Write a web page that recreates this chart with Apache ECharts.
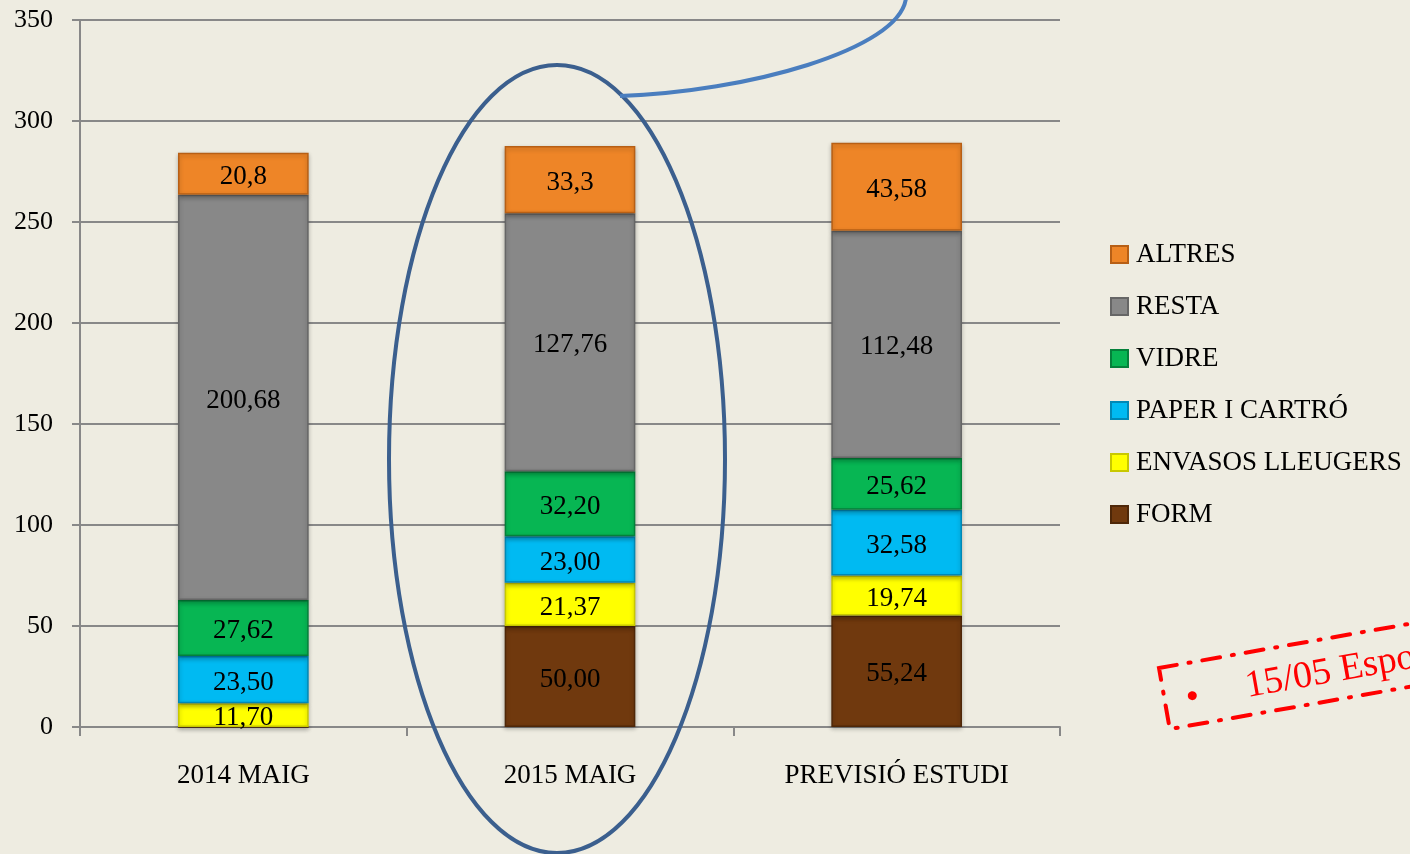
<!DOCTYPE html>
<html>
<head>
<meta charset="utf-8">
<script src="https://cdn.jsdelivr.net/npm/echarts@6/dist/echarts.min.js"></script>
<style>
    html, body { margin: 0; padding: 0; background: #EEECE1; }
    #chart { width: 1410px; height: 854px; }
</style>
</head>
<body>
<div id="chart"></div>
<script>
// dades
const categories = ['2014 MAIG', '2015 MAIG', 'PREVISIÓ ESTUDI'];
const form     = [0, 50.00, 55.24];
const envasos  = [11.70, 21.37, 19.74];
const paper    = [23.50, 23.00, 32.58];
const vidre    = [27.62, 32.20, 25.62];
const resta    = [200.68, 127.76, 112.48];
const altres   = [20.8, 33.3, 43.58];
const altresDecimals = [1, 1, 2];
const yTicks = [0, 50, 100, 150, 200, 250, 300, 350];

const FONT = 'Liberation Serif';

function fmt(v, d) {
    return v.toFixed(d).replace('.', ',');
}

function makeSeries(name, data, color, border, decimals) {
    return {
        name: name,
        type: 'bar',
        stack: 'total',
        barWidth: '40%',
        data: data,
        itemStyle: {
            color: color,
            borderColor: border,
            borderWidth: 1.5,
            shadowColor: 'rgba(0,0,0,0.25)',
            shadowBlur: 4,
            shadowOffsetY: 2
        },
        label: {
            show: true,
            position: 'inside',
            offset: [0, 3],
            color: '#000',
            fontFamily: FONT,
            fontSize: 27,
            formatter: (p) => {
                if (!p.value) return '';
                let d = decimals ? decimals[p.dataIndex] : 2;
                return fmt(p.value, d);
            }
        }
    };
}

let chart = echarts.init(document.getElementById('chart'));

let option = {
    backgroundColor: '#EEECE1',
    animation: false,
    textStyle: { fontFamily: FONT },
    grid: { left: 80, right: 350, top: 20, bottom: 127 },
    legend: {
        orient: 'vertical',
        left: 1110,
        top: 241,
        padding: 0,
        itemWidth: 17,
        itemHeight: 17,
        itemGap: 25,
        icon: 'rect',
        data: ['ALTRES', 'RESTA', 'VIDRE', 'PAPER I CARTRÓ', 'ENVASOS LLEUGERS', 'FORM'],
        textStyle: { fontFamily: FONT, fontSize: 27, color: '#000', padding: [0, 0, 0, 3] }
    },
    xAxis: {
        type: 'category',
        data: categories,
        axisLine: { lineStyle: { color: '#888', width: 2 } },
        axisTick: { show: true, length: 9, lineStyle: { color: '#888', width: 2 } },
        axisLabel: { color: '#000', fontFamily: FONT, fontSize: 27, margin: 35 }
    },
    yAxis: {
        type: 'value',
        min: yTicks[0],
        max: yTicks[yTicks.length - 1],
        interval: 50,
        axisLine: { show: true, lineStyle: { color: '#888', width: 2 } },
        axisTick: { show: true, length: 8, lineStyle: { color: '#888', width: 2 } },
        splitLine: { lineStyle: { color: '#888', width: 2 } },
        axisLabel: { color: '#000', fontFamily: FONT, fontSize: 26, margin: 27 }
    },
    series: [
        makeSeries('FORM', form, '#70390E', '#4E2708'),
        makeSeries('ENVASOS LLEUGERS', envasos, '#FFFF00', '#C8C800'),
        makeSeries('PAPER I CARTRÓ', paper, '#00BAF2', '#0088B5'),
        makeSeries('VIDRE', vidre, '#07B653', '#04803A'),
        makeSeries('RESTA', resta, '#888888', '#666666'),
        makeSeries('ALTRES', altres, '#EE8527', '#B75F15', altresDecimals)
    ],
    graphic: [
        {
            type: 'ellipse',
            z: 100,
            shape: { cx: 557, cy: 459, rx: 168, ry: 394 },
            style: { fill: 'none', stroke: '#3B5F8E', lineWidth: 4 }
        },
        {
            type: 'bezierCurve',
            z: 100,
            shape: { x1: 620, y1: 96, cpx1: 745, cpy1: 92, cpx2: 900, cpy2: 50, x2: 906, y2: -2 },
            style: { fill: 'none', stroke: '#4A7EBF', lineWidth: 4 }
        },
        {
            type: 'group',
            x: 1159,
            y: 668,
            rotation: 10 * Math.PI / 180,
            z: 100,
            children: [
                {
                    type: 'rect',
                    shape: { x: 0, y: 0, width: 340, height: 62 },
                    style: {
                        fill: 'none', stroke: '#FF0000', lineWidth: 4,
                        lineDash: [18, 12, 2, 12], lineCap: 'round'
                    }
                },
                {
                    type: 'circle',
                    shape: { cx: 28, cy: 33, r: 4.5 },
                    style: { fill: '#FF0000' }
                },
                {
                    type: 'text',
                    x: 82,
                    y: 34,
                    style: {
                        text: '15/05 Espo',
                        fill: '#FF0000',
                        font: '38px "Liberation Serif"',
                        verticalAlign: 'middle'
                    }
                }
            ]
        }
    ]
};

chart.setOption(option);
</script>
</body>
</html>
